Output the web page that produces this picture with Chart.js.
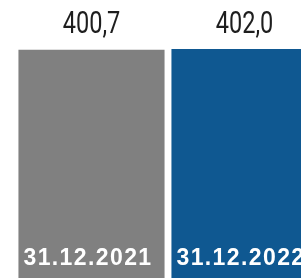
<!DOCTYPE html>
<html>
<head>
<meta charset="utf-8">
<script src="https://cdn.jsdelivr.net/npm/chart.js@4/dist/chart.umd.min.js"></script>
<style>
  html, body { margin: 0; padding: 0; background: #fff; overflow: hidden; }
  #wrap { width: 301px; height: 278px; overflow: hidden; }
  canvas { display: block; }
</style>
</head>
<body>
<div id="wrap"><canvas id="chart" width="321" height="278"></canvas></div>
<script>
const categories = ['31.12.2021', '31.12.2022'];
const values = [400.7, 402.0];
const valueLabels = ['400,7', '402,0'];
const barColors = ['#808080', '#0f5891'];

const labelsPlugin = {
  id: 'barLabels',
  afterDatasetsDraw(chart) {
    const { ctx } = chart;
    const meta = chart.getDatasetMeta(0);
    meta.data.forEach((bar, i) => {
      const left = bar.x - bar.width / 2;
      // value above the bar, condensed look
      ctx.save();
      ctx.fillStyle = '#1e1e1e';
      ctx.font = '400 31px Roboto';
      ctx.textAlign = 'center';
      ctx.textBaseline = 'alphabetic';
      ctx.translate(bar.x, 33);
      ctx.scale(0.76, 1);
      ctx.fillText(valueLabels[i], 0, 0);
      ctx.restore();
      // date inside the bar, bottom left
      ctx.save();
      ctx.fillStyle = '#ffffff';
      ctx.font = 'bold 23px "Liberation Sans", Arial, sans-serif';
      ctx.letterSpacing = '1.4px';
      ctx.textAlign = 'left';
      ctx.textBaseline = 'alphabetic';
      ctx.fillText(categories[i], left + 5, 265);
      ctx.restore();
    });
  }
};

new Chart(document.getElementById('chart'), {
  type: 'bar',
  data: {
    labels: categories,
    datasets: [{
      data: values,
      backgroundColor: barColors,
      borderWidth: 0,
      barPercentage: 0.955,
      categoryPercentage: 1
    }]
  },
  options: {
    responsive: false,
    animation: false,
    devicePixelRatio: 1,
    layout: { padding: { left: 15, right: 0, top: 0, bottom: 0 } },
    plugins: { legend: { display: false }, tooltip: { enabled: false } },
    scales: {
      x: { display: false, offset: true },
      y: { display: false, min: 0, max: 488 }
    }
  },
  plugins: [labelsPlugin]
});
</script>
</body>
</html>
